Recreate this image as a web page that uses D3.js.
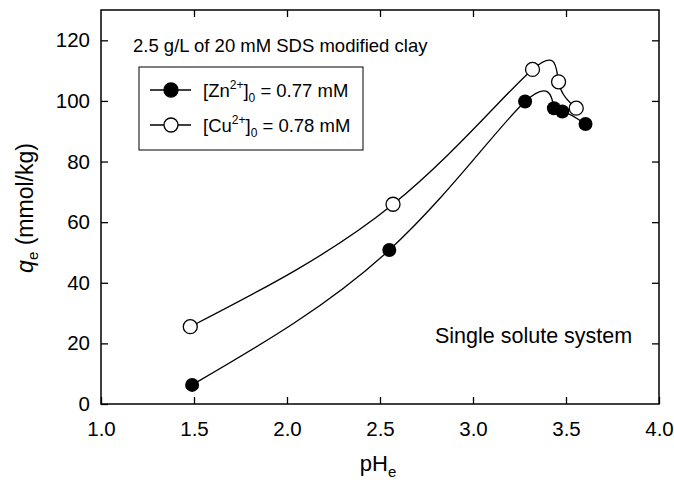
<!DOCTYPE html>
<html>
<head>
<meta charset="utf-8">
<script src="https://cdn.jsdelivr.net/npm/d3@7"></script>
<style>
  body { margin: 0; background: #fff; }
  text { font-family: "Liberation Sans", Arial, sans-serif; fill: #000; }
</style>
</head>
<body>
<div id="chart"></div>
<script>
// data
var znPH = [1.49, 2.55, 3.28, 3.435, 3.48, 3.605];
var znQ  = [6.3, 50.8, 99.8, 97.6, 96.5, 92.4];
var cuPH = [1.48, 2.57, 3.32, 3.46, 3.555];
var cuQ  = [25.5, 65.9, 110.4, 106.3, 97.6];
var xTicks = [1.0, 1.5, 2.0, 2.5, 3.0, 3.5, 4.0];
var yTicks = [0, 20, 40, 60, 80, 100, 120];

var margin = { top: 10, right: 15, bottom: 78, left: 101 };
var width = 674 - margin.left - margin.right;
var height = 482 - margin.top - margin.bottom;

var svg = d3.select("#chart").append("svg")
    .attr("width", 674)
    .attr("height", 482);

var g = svg.append("g").attr("transform", "translate(" + margin.left + "," + margin.top + ")");

var x = d3.scaleLinear().domain([1, 4]).range([0, width]);
var y = d3.scaleLinear().domain([0, 130]).range([height, 0]);

// axes, ticks point inward
var tickLen = 7;
g.append("g")
    .attr("class", "axis xAxis")
    .attr("transform", "translate(0," + height + ")")
    .call(d3.axisBottom(x).tickValues(xTicks).tickFormat(d3.format(".1f")).tickSizeInner(-tickLen).tickSizeOuter(0).tickPadding(17));
g.append("g")
    .attr("class", "axis xTop")
    .call(d3.axisTop(x).tickValues(xTicks.slice(1, -1)).tickSizeInner(-tickLen).tickSizeOuter(0).tickFormat(""));
g.append("g")
    .attr("class", "axis yAxis")
    .call(d3.axisLeft(y).tickValues(yTicks).tickSizeInner(-tickLen).tickSizeOuter(0).tickPadding(11));
g.append("g")
    .attr("class", "axis yRight")
    .attr("transform", "translate(" + width + ",0)")
    .call(d3.axisRight(y).tickValues(yTicks.slice(1)).tickSizeInner(-tickLen).tickSizeOuter(0).tickFormat(""));

g.selectAll(".axis .domain").remove();
g.selectAll(".axis line").attr("stroke", "#000").attr("stroke-width", 1.3);
g.selectAll(".axis text").style("font-size", "20.5px");

g.append("rect")
    .attr("width", width)
    .attr("height", height)
    .attr("fill", "none")
    .attr("stroke", "#000")
    .attr("stroke-width", 1.5);

var line = d3.line()
    .x(function (d) { return x(d[0]); })
    .y(function (d) { return y(d[1]); })
    .curve(d3.curveNatural);

var zn = znPH.map(function (v, i) { return [v, znQ[i]]; });
var cu = cuPH.map(function (v, i) { return [v, cuQ[i]]; });

[zn, cu].forEach(function (data) {
  g.append("path")
      .datum(data)
      .attr("class", "line")
      .attr("fill", "none")
      .attr("stroke", "#000")
      .attr("stroke-width", 1.3)
      .attr("d", line);
});

g.selectAll(".zn").data(zn).enter().append("circle")
    .attr("cx", function (d) { return x(d[0]); })
    .attr("cy", function (d) { return y(d[1]); })
    .attr("r", 7)
    .attr("fill", "#000");

g.selectAll(".cu").data(cu).enter().append("circle")
    .attr("cx", function (d) { return x(d[0]); })
    .attr("cy", function (d) { return y(d[1]); })
    .attr("r", 7)
    .attr("fill", "#fff")
    .attr("stroke", "#000")
    .attr("stroke-width", 1.3);

// annotations
svg.append("text").attr("x", 133).attr("y", 52).style("font-size", "18.5px")
    .text("2.5 g/L of 20 mM SDS modified clay");
svg.append("text").attr("x", 435).attr("y", 343).style("font-size", "21.5px")
    .text("Single solute system");

// legend
svg.append("rect").attr("x", 139).attr("y", 67).attr("width", 224).attr("height", 83)
    .attr("fill", "none").attr("stroke", "#000").attr("stroke-width", 1);
var legend = [["Zn", "0.77", "#000", 90], ["Cu", "0.78", "#fff", 125]];
legend.forEach(function (l) {
  svg.append("line").attr("x1", 150).attr("x2", 191).attr("y1", l[3]).attr("y2", l[3])
      .attr("stroke", "#000").attr("stroke-width", 1.3);
  svg.append("circle").attr("cx", 171).attr("cy", l[3]).attr("r", 7)
      .attr("fill", l[2]).attr("stroke", "#000").attr("stroke-width", 1.3);
  var t = svg.append("text").attr("x", 203).attr("y", l[3] + 7).style("font-size", "18.5px");
  t.append("tspan").text("[" + l[0] + "");
  t.append("tspan").attr("dy", -8).style("font-size", "12px").text("2+");
  t.append("tspan").attr("dy", 8).text("]");
  t.append("tspan").attr("dy", 5).style("font-size", "12px").text("0");
  t.append("tspan").attr("dy", -5).text(" = " + l[1] + " mM");
});

// axis titles
var yt = svg.append("text")
    .attr("transform", "translate(33,208) rotate(-90)")
    .attr("text-anchor", "middle")
    .style("font-size", "23px");
yt.append("tspan").style("font-style", "italic").text("q");
yt.append("tspan").attr("dy", 5).style("font-size", "15px").text("e");
yt.append("tspan").attr("dy", -5).text(" (mmol/kg)");

var xt = svg.append("text")
    .attr("x", 378).attr("y", 471)
    .attr("text-anchor", "middle")
    .style("font-size", "22px");
xt.append("tspan").text("pH");
xt.append("tspan").attr("dy", 6).style("font-size", "15px").text("e");
</script>
</body>
</html>
